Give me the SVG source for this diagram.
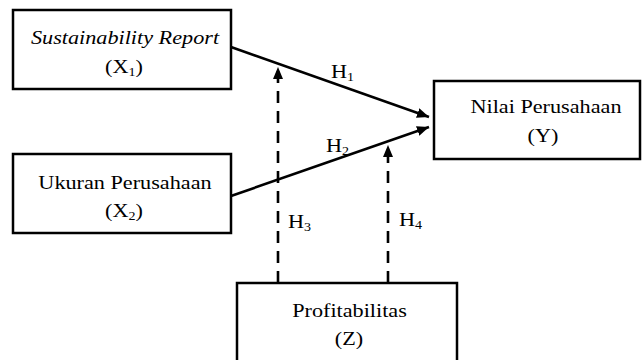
<svg xmlns="http://www.w3.org/2000/svg" width="642" height="360" viewBox="0 0 642 360">
<style>
.box{fill:#fff;stroke:#000;stroke-width:2.5}
.t{font-family:"Liberation Serif","Times New Roman",serif;font-size:19px;fill:#000;text-anchor:middle}
.lab{font-family:"Liberation Serif","Times New Roman",serif;font-size:19px;fill:#000}
.sub{font-size:12px}
.ln{stroke:#000;stroke-width:2.6;fill:none}
.dash{stroke-dasharray:12 8}
</style>
<defs>
<marker id="ah" markerUnits="userSpaceOnUse" markerWidth="14" markerHeight="12" refX="12" refY="5" orient="auto">
<path d="M0,0 L12,5 L0,10 Z" fill="#000"/>
</marker>
</defs>
<rect width="642" height="360" fill="#fff"/>
<g id="connectors">
<line class="ln" x1="231" y1="47" x2="429" y2="117" marker-end="url(#ah)"/>
<line class="ln" x1="231" y1="196" x2="429" y2="127" marker-end="url(#ah)"/>
<line class="ln dash" x1="278" y1="283" x2="278" y2="67" marker-end="url(#ah)"/>
<line class="ln dash" x1="388" y1="283" x2="388" y2="145" marker-end="url(#ah)"/>
<text class="lab" transform="translate(331,78) scale(1.17,1)">H<tspan class="sub" dy="3">1</tspan></text>
<text class="lab" transform="translate(326,152) scale(1.17,1)">H<tspan class="sub" dy="3">2</tspan></text>
<text class="lab" transform="translate(288,228) scale(1.17,1)">H<tspan class="sub" dy="3">3</tspan></text>
<text class="lab" transform="translate(399,226) scale(1.17,1)">H<tspan class="sub" dy="3">4</tspan></text>
</g>
<g id="x1">
<rect class="box" x="13" y="10" width="218" height="79"/>
<text class="t" font-style="italic" transform="translate(125,44) scale(1.17,1)">Sustainability Report</text>
<text class="t" transform="translate(124,73) scale(1.17,1)">(X<tspan class="sub" dy="3">1</tspan><tspan dy="-3">)</tspan></text>
</g>
<g id="x2">
<rect class="box" x="13" y="154" width="218" height="79"/>
<text class="t" transform="translate(125,189) scale(1.17,1)">Ukuran Perusahaan</text>
<text class="t" transform="translate(124,217) scale(1.17,1)">(X<tspan class="sub" dy="3">2</tspan><tspan dy="-3">)</tspan></text>
</g>
<g id="y">
<rect class="box" x="434" y="81" width="206" height="78"/>
<text class="t" transform="translate(546,113) scale(1.17,1)">Nilai Perusahaan</text>
<text class="t" transform="translate(543,142) scale(1.17,1)">(Y)</text>
</g>
<g id="z">
<rect class="box" x="237" y="283" width="220" height="85"/>
<text class="t" transform="translate(349.5,317) scale(1.17,1)">Profitabilitas</text>
<text class="t" transform="translate(349,345) scale(1.17,1)">(Z)</text>
</g>
</svg>
